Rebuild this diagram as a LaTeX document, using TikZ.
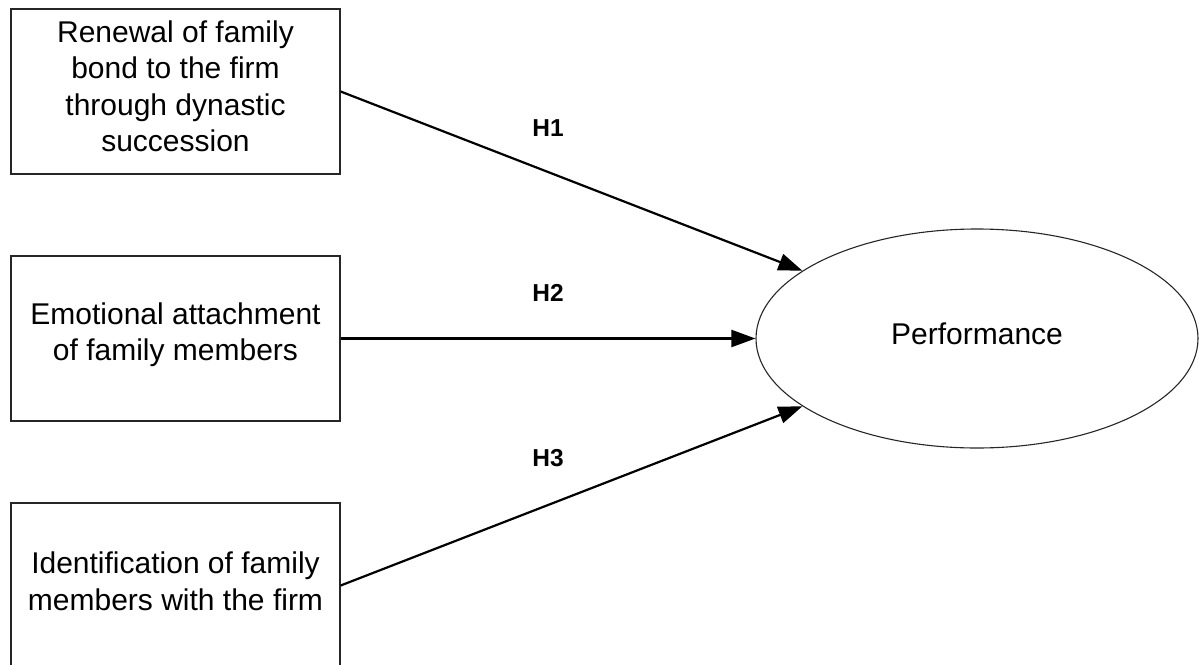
\documentclass[tikz,border=0pt]{standalone}
\usepackage{fontspec}
\setmainfont{Liberation Sans}
\usetikzlibrary{arrows.meta,shapes.geometric}

\tikzset{
  construct/.style={draw=black!85, line width=1.3pt, rectangle,
    minimum width=329pt, minimum height=165pt, inner sep=0pt},
  boxtext/.style={align=center, inner sep=0pt,
    font=\fontsize{30}{36.5}\selectfont},
  outcome/.style={draw=black!85, line width=1.1pt, ellipse,
    minimum width=442pt, minimum height=219pt, inner sep=0pt},
  path arrow/.style={line width=2.2pt,
    -{Triangle[length=24pt,width=17pt]}},
  hyp/.style={font=\fontsize{24.5}{28}\selectfont\bfseries, inner sep=0pt}
}

\begin{document}
\begin{tikzpicture}[x=1pt,y=-1pt]
  \path[use as bounding box, clip] (0,0) rectangle (1199,664);

  % antecedent constructs
  \node[construct] (renewal) at (175.5,91.5) {};
  \node[boxtext] (renewal-t) at ([yshift=5pt]renewal.center)
    {Renewal of family\\bond to the firm\\through dynastic\\succession};
  \node[construct] (emotion) at (175.5,338.5) {};
  \node[boxtext] (emotion-t) at ([yshift=4pt]emotion.center)
    {Emotional attachment\\of family members};
  \node[construct] (ident) at (175.5,585.5) {};
  \node[boxtext] (ident-t) at ([yshift=4pt]ident.center)
    {Identification of family\\members with the firm};

  % outcome
  \node[outcome] (perf) at (977,338.5) {};
  \node[boxtext] (perf-t) at ([yshift=5pt]perf.center) {Performance};

  % hypothesised paths
  \draw[path arrow] (renewal.east) -- (perf);
  \draw[path arrow] (emotion.east) -- (perf);
  \draw[path arrow] (ident.east) -- (perf);

  % hypothesis labels
  \node[hyp] (h1) at (548,128) {H1};
  \node[hyp] (h2) at (548,293) {H2};
  \node[hyp] (h3) at (548,458) {H3};
\end{tikzpicture}
\end{document}
